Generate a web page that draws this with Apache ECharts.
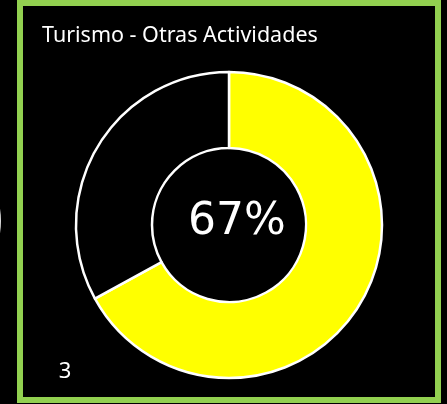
<!DOCTYPE html>
<html>
<head>
<meta charset="utf-8">
<script src="https://cdn.jsdelivr.net/npm/echarts@6/dist/echarts.min.js"></script>
<style>
  html, body { margin: 0; padding: 0; background: #000; }
  #chart { width: 447px; height: 404px; }
</style>
</head>
<body>
<div id="chart"></div>
<script>
var categories = ['Turismo - Otras Actividades', 'Resto'];
var values = [67, 33];
var centerLabel = '67%';
var cornerLabel = '3';

var chart = echarts.init(document.getElementById('chart'));

var option = {
    backgroundColor: '#000',
    animation: false,
    title: [
        {
            text: categories[0],
            left: 42,
            top: 25,
            padding: 0,
            textStyle: { color: '#fff', fontSize: 21.5, fontWeight: 'normal', fontFamily: 'Noto Sans' }
        },
        {
            text: centerLabel,
            left: 237,
            top: 223,
            textAlign: 'center',
            textVerticalAlign: 'middle',
            padding: 0,
            textStyle: { color: '#fff', fontSize: 44, fontWeight: 'normal', fontFamily: 'DejaVu Sans' }
        },
        {
            text: cornerLabel,
            left: 65,
            top: 372,
            textAlign: 'center',
            textVerticalAlign: 'middle',
            padding: 0,
            textStyle: { color: '#fff', fontSize: 22, fontWeight: 'normal', fontFamily: 'Noto Sans' }
        }
    ],
    graphic: [
        // borde verde del recuadro
        {
            type: 'rect',
            shape: { x: 20, y: 3, width: 418, height: 397 },
            style: { fill: 'none', stroke: '#92D050', lineWidth: 6 }
        },
        // resto del grafico vecino a la izquierda
        {
            type: 'circle',
            shape: { cx: -78, cy: 221, r: 78 },
            style: { fill: 'none', stroke: '#ddd', lineWidth: 2 }
        }
    ],
    series: [
        {
            type: 'pie',
            center: [229, 225],
            radius: [77, 153],
            startAngle: 90,
            clockwise: true,
            label: { show: false },
            labelLine: { show: false },
            emphasis: { disabled: true },
            itemStyle: { borderColor: '#fff', borderWidth: 2.5 },
            data: [
                { name: categories[0], value: values[0], itemStyle: { color: '#FFFF00' } },
                { name: categories[1], value: values[1], itemStyle: { color: '#000' } }
            ]
        }
    ]
};

chart.setOption(option);
</script>
</body>
</html>
